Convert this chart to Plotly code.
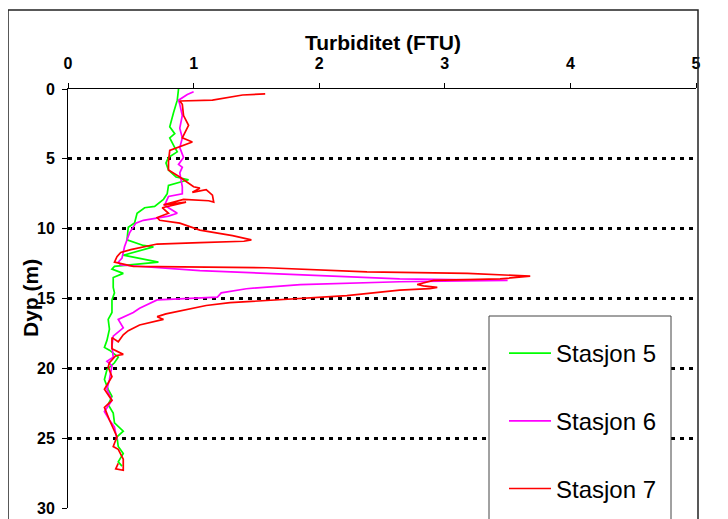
import plotly.graph_objects as go

# Stasjon 5 (green)
dyp_st5 = [0.0, 0.8, 1.7, 2.7, 3.2, 3.5, 4.2, 4.5, 4.9, 5.3, 5.8, 6.3, 6.5, 6.9, 7.5, 7.9,
           8.4, 8.5, 8.9, 9.6, 9.9, 10.8, 11.2, 11.3, 11.9, 12.4, 12.7, 12.9, 13.2, 13.5,
           14.2, 14.6, 15.1, 16.0, 16.5, 17.2, 18.0, 18.5, 18.7, 19.2, 19.6, 20.1, 20.8,
           21.5, 22.0, 22.6, 23.2, 23.9, 24.5, 24.9, 25.6, 26.1, 26.7, 27.0]
turb_st5 = [0.88, 0.87, 0.84, 0.81, 0.85, 0.81, 0.85, 0.87, 0.80, 0.78, 0.80, 0.86, 0.96, 0.80,
            0.79, 0.76, 0.69, 0.61, 0.55, 0.53, 0.48, 0.47, 0.60, 0.68, 0.44, 0.72, 0.37, 0.35,
            0.44, 0.36, 0.36, 0.37, 0.35, 0.35, 0.32, 0.33, 0.31, 0.29, 0.33, 0.40, 0.37, 0.31,
            0.29, 0.32, 0.35, 0.32, 0.36, 0.37, 0.44, 0.39, 0.40, 0.44, 0.40, 0.43]

# Stasjon 6 (magenta)
dyp_st6 = [0.2, 0.4, 0.8, 1.1, 1.9, 2.8, 3.5, 4.2, 4.9, 5.4, 5.6, 6.0, 7.0, 7.5, 7.7, 8.3,
           8.5, 8.9, 9.1, 9.4, 9.6, 10.3, 11.3, 12.1, 12.4, 12.6, 13.0, 13.3, 13.6, 13.7,
           13.8, 14.0, 14.3, 14.6, 14.9, 15.1, 15.7, 16.0, 16.5, 17.1, 17.7, 18.4, 19.2,
           19.5, 19.8, 20.8, 21.5, 22.3, 23.1, 23.7, 24.2, 25.1]
turb_st6 = [1.00, 0.95, 0.88, 0.89, 0.91, 0.89, 0.91, 0.89, 0.92, 0.88, 0.91, 0.89, 0.91, 0.91,
            0.80, 0.77, 0.80, 0.87, 0.80, 0.60, 0.54, 0.49, 0.45, 0.43, 0.40, 0.42, 1.05, 1.85,
            2.64, 3.50, 2.64, 1.85, 1.42, 1.22, 1.19, 0.71, 0.57, 0.52, 0.40, 0.44, 0.36, 0.35,
            0.36, 0.31, 0.35, 0.33, 0.31, 0.35, 0.29, 0.33, 0.37, 0.39]

# Stasjon 7 (red)
dyp_st7 = [0.35, 0.43, 0.79, 0.86, 1.1, 1.9, 2.6, 3.1, 3.5, 3.8, 4.4, 5.2, 5.8, 6.3, 7.0,
           7.1, 7.4, 7.2, 7.6, 8.1, 8.0, 7.9, 8.3, 8.1, 8.5, 8.9, 9.2, 9.4, 9.6, 10.1, 10.5,
           10.8, 10.9, 11.0, 11.1, 11.5, 11.7, 12.0, 12.4, 12.7, 12.8, 13.1, 13.2, 13.4,
           13.6, 13.7, 14.0, 14.1, 14.2, 14.3, 14.4, 14.8, 15.1, 15.3, 15.5, 15.8, 16.1,
           16.3, 16.5, 16.9, 17.3, 17.6, 18.1, 17.8, 18.6, 19.0, 19.1, 19.6, 19.9, 20.6,
           21.5, 22.3, 22.8, 23.7, 24.9, 25.6, 25.8, 26.5, 27.3, 27.2, 26.8]
turb_st7 = [1.57, 1.39, 1.15, 0.89, 0.91, 0.92, 0.96, 0.93, 0.91, 0.99, 0.81, 0.80, 0.80, 0.89,
            1.00, 1.05, 0.99, 1.10, 1.15, 1.16, 1.12, 0.92, 0.76, 0.94, 0.75, 0.80, 0.71, 0.73,
            0.89, 1.05, 1.31, 1.46, 1.40, 1.05, 0.71, 0.50, 0.42, 0.39, 0.37, 0.52, 1.58, 2.38,
            3.18, 3.68, 3.44, 2.91, 2.78, 2.83, 2.94, 2.88, 2.64, 2.22, 1.69, 1.29, 1.10, 0.95,
            0.78, 0.71, 0.76, 0.57, 0.48, 0.44, 0.40, 0.35, 0.35, 0.44, 0.38, 0.33, 0.32, 0.35,
            0.29, 0.35, 0.29, 0.33, 0.39, 0.36, 0.40, 0.44, 0.44, 0.38, 0.40]

x_ticks = [0, 1, 2, 3, 4, 5]
y_ticks = [0, 5, 10, 15, 20, 25, 30]

stasjoner = [
    ("Stasjon 5", turb_st5, dyp_st5, "#00ff00"),
    ("Stasjon 6", turb_st6, dyp_st6, "#ff00ff"),
    ("Stasjon 7", turb_st7, dyp_st7, "#ff0000"),
]

fig = go.Figure()
for i, (navn, x, y, farge) in enumerate(stasjoner):
    fig.add_trace(go.Scatter(x=x, y=y, name=navn, mode="lines",
                             line=dict(color=farge, width=1.7),
                             legendgroup=str(i)))

FONT = "Liberation Sans, Arial, sans-serif"

# plot area in figure pixels (page is offset 8px by the body margin)
FIG_W, FIG_H = 728, 522
L, T, W, H = 60, 81, 628, 419

def px(xf):
    return (xf - L) / W

def py(yf):
    return (T + H - yf) / H

fig.update_layout(
    width=FIG_W, height=FIG_H,
    margin=dict(l=L, r=FIG_W - L - W, t=T, b=FIG_H - T - H),
    paper_bgcolor="white", plot_bgcolor="white",
    font=dict(family=FONT, color="black"),
    showlegend=True,
    legend=dict(x=px(496), y=py(503), xanchor="left", yanchor="bottom",
                bgcolor="rgba(0,0,0,0)", borderwidth=0,
                font=dict(size=24, family=FONT), tracegroupgap=33.5,
                itemwidth=42),
    xaxis=dict(side="top", range=[0, 5], tickvals=x_ticks, showgrid=False, zeroline=False,
               showline=True, linecolor="black", linewidth=1, automargin=False,
               ticks="outside", ticklen=5, tickcolor="black",
               tickfont=dict(size=16, family=FONT, weight="bold"),
               ticklabelstandoff=8),
    yaxis=dict(range=[30, 0], tickvals=y_ticks, zeroline=False, automargin=False,
               showline=True, linecolor="black", linewidth=1,
               ticks="outside", ticklen=5, tickcolor="black",
               showgrid=True, gridcolor="black", gridwidth=3, griddash="4px,5px",
               tickfont=dict(size=16, family=FONT, weight="bold"),
               ticklabelstandoff=4),
    annotations=[
        dict(text="<b>Turbiditet (FTU)</b>", x=px(375), y=py(35), xanchor="center",
             yanchor="middle", xref="paper", yref="paper", showarrow=False,
             font=dict(size=21)),
        dict(text="<b>Dyp (m)</b>", x=px(22), y=py(290), textangle=-90, xanchor="center",
             yanchor="middle", xref="paper", yref="paper", showarrow=False,
             font=dict(size=21)),
    ],
    shapes=[
        # chart frame
        dict(type="rect", xref="paper", yref="paper",
             x0=px(0), x1=px(690), y0=py(540), y1=py(2),
             line=dict(color="#222222", width=1.5), fillcolor="rgba(0,0,0,0)", layer="above"),
        # legend box
        dict(type="rect", xref="paper", yref="paper",
             x0=px(481), x1=px(663), y0=py(540), y1=py(308),
             line=dict(color="#444444", width=1), fillcolor="white", layer="above"),
    ],
)

fig.write_html("out.html")
